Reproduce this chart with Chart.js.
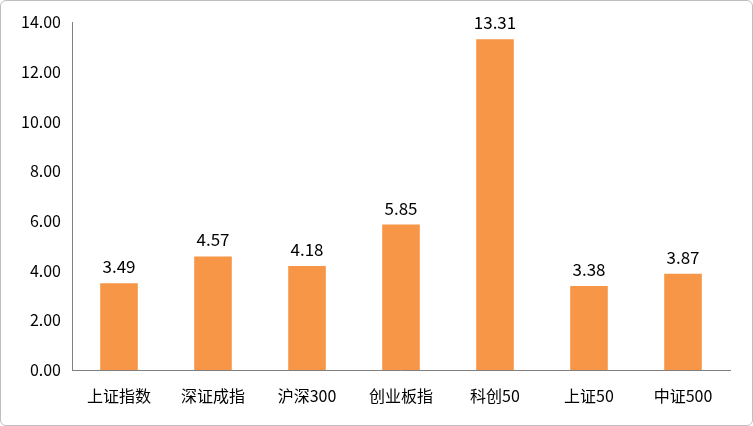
<!DOCTYPE html>
<html>
<head>
<meta charset="utf-8">
<script src="https://cdn.jsdelivr.net/npm/chart.js@4/dist/chart.umd.min.js"></script>
<style>
  html, body { margin: 0; padding: 0; background: #fff; }
  #wrap { width: 751px; height: 424px; border: 1px solid #bfbfbf; border-radius: 6px; position: relative; }
</style>
</head>
<body>
<div id="wrap"><canvas id="c" width="751" height="424"></canvas></div>
<script>
// ================= DATA =================
const categories = ["上证指数", "深证成指", "沪深300", "创业板指", "科创50", "上证50", "中证500"];
const values = [3.49, 4.57, 4.18, 5.85, 13.31, 3.38, 3.87];
const yTicks = [0, 2, 4, 6, 8, 10, 12, 14];

const FONT = "'Noto Sans CJK SC', 'DejaVu Sans', sans-serif";

// ================= LABELS ABOVE BARS =================
const valueLabels = {
  id: "valueLabels",
  afterDatasetsDraw(chart) {
    const ctx = chart.ctx;
    const meta = chart.getDatasetMeta(0);
    ctx.save();
    ctx.font = "17px " + FONT;
    ctx.fillStyle = "#000";
    ctx.textAlign = "center";
    ctx.textBaseline = "bottom";
    meta.data.forEach((bar, i) => {
      ctx.fillText(values[i].toFixed(2), bar.x, bar.y - 8);
    });
    ctx.restore();
  }
};

new Chart(document.getElementById("c"), {
  type: "bar",
  data: {
    labels: categories,
    datasets: [{
      data: values,
      backgroundColor: "#F79646",
      categoryPercentage: 1,
      barPercentage: 0.4
    }]
  },
  options: {
    responsive: false,
    animation: false,
    layout: { padding: { top: 21, right: 22 } },
    plugins: { legend: { display: false }, tooltip: { enabled: false } },
    scales: {
      x: {
        grid: { display: false },
        border: { color: "#808080" },
        ticks: { color: "#000", font: { family: FONT, size: 16 }, padding: 8 },
        afterFit(s) { s.height = 55; }
      },
      y: {
        min: 0, max: 14,
        afterBuildTicks(s) { s.ticks = yTicks.map(v => ({ value: v })); },
        grid: { display: false },
        border: { color: "#808080" },
        ticks: {
          color: "#000",
          font: { family: FONT, size: 16 },
          callback: v => Number(v).toFixed(2)
        },
        afterFit(s) { s.width = 71; }
      }
    }
  },
  plugins: [valueLabels]
});
</script>
</body>
</html>
